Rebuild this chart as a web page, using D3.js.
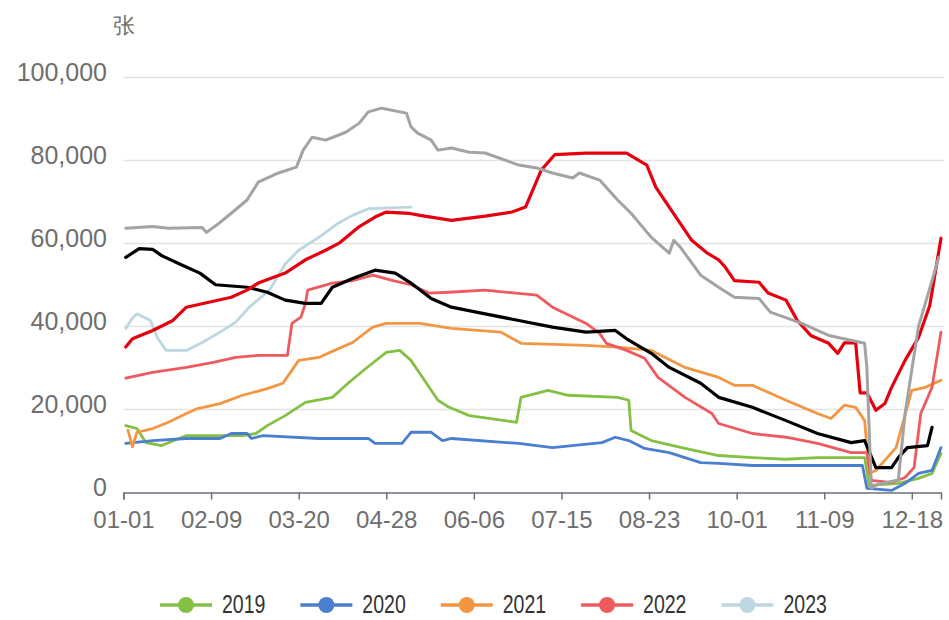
<!DOCTYPE html>
<html><head><meta charset="utf-8">
<script src="https://cdn.jsdelivr.net/npm/d3@7"></script>
<style>
body{margin:0;background:#fff}
text{font-family:"Liberation Sans",Arial,sans-serif}
</style>
</head><body>
<svg id="c" width="949" height="620"></svg>
<script>
// ---------- data (day-of-year index, value in 张) ----------
const xTickLabels = ["01-01","02-09","03-20","04-28","06-06","07-15","08-23","10-01","11-09","12-18"];
const yTickValues = [0,20000,40000,60000,80000,100000];
const unitLabel = "张";
const legendNames = ["2019","2020","2021","2022","2023"];
const legendColors = ["#84c043","#4a7fcf","#f39642","#ef5a5e","#bcd6e2"];

const s2019 = [[1,16100],[6,15400],[10,12000],[17,11300],[28,13700],[43,13700],[53,13700],[59,14200],[64,16100],[72,18500],[81,21700],[93,22900],[100,26300],[108,29900],[117,33700],[123,34200],[128,31800],[134,27000],[140,22200],[145,20500],[154,18500],[175,16900],[177,22900],[189,24600],[198,23400],[220,22900],[225,22200],[226,14900],[235,12500],[250,10600],[265,8900],[280,8400],[295,8000],[309,8400],[330,8400],[332,1700],[345,2200],[354,3400],[360,4600],[364,9400]];
const s2020 = [[1,11800],[13,12500],[28,13000],[43,13000],[48,14200],[55,14200],[57,13000],[62,13700],[87,13000],[109,13000],[112,11800],[124,11800],[128,14500],[137,14500],[142,12500],[146,13000],[176,11800],[191,10800],[213,12000],[219,13300],[225,12500],[232,10600],[243,9600],[257,7200],[265,7000],[280,6500],[309,6500],[329,6500],[331,1000],[342,500],[348,2200],[354,4600],[360,5300],[364,10800]];
const s2021 = [[2,15000],[4,11000],[6,14500],[13,15400],[20,16900],[28,19000],[33,20200],[43,21400],[53,23400],[64,25000],[71,26300],[78,31800],[87,32500],[94,34200],[102,36100],[111,39800],[117,40700],[132,40700],[146,39500],[168,38600],[177,35900],[206,35400],[220,35000],[235,34200],[250,30100],[265,27700],[272,25800],[280,25800],[295,22200],[309,19000],[315,17800],[321,21000],[326,20500],[330,17300],[332,4600],[335,5300],[344,10800],[351,24600],[357,25300],[364,27000]];
const s2022 = [[1,27500],[13,28900],[28,30100],[40,31300],[50,32500],[60,33000],[73,33000],[75,40700],[79,42200],[81,45500],[82,48700],[93,50400],[102,51000],[111,52300],[120,51000],[128,50000],[136,48000],[145,48200],[161,48700],[184,47500],[191,44600],[206,40700],[212,38300],[215,35900],[224,34200],[232,32300],[238,27700],[250,22900],[262,19000],[265,16600],[280,14200],[295,13300],[309,11800],[324,9600],[331,9600],[333,2900],[342,2400],[348,3600],[352,6000],[355,19000],[360,25300],[364,38600]];
const s2023 = [[1,39500],[4,42000],[6,43000],[12,41400],[15,37300],[19,34200],[28,34200],[35,36100],[43,38600],[50,41000],[56,44600],[65,48700],[72,55000],[78,58300],[87,61400],[95,64600],[102,66700],[109,68300],[128,68700]];
const sBlack = [[1,56600],[7,58700],[13,58500],[17,57000],[25,55000],[34,52800],[41,50000],[55,49400],[64,48200],[72,46300],[81,45500],[88,45500],[93,49400],[102,51500],[112,53500],[121,52800],[128,50400],[137,46700],[146,44600],[161,43000],[176,41400],[191,39800],[206,38600],[219,39000],[224,37000],[235,33500],[243,30100],[257,26300],[265,22900],[280,20500],[295,17300],[309,14200],[324,12000],[330,12500],[335,6000],[342,6000],[345,8400],[349,10800],[358,11300],[360,15700]];
const sRed = [[1,35000],[4,37000],[13,39000],[22,41400],[28,44600],[38,45800],[48,47000],[55,48700],[60,50400],[72,52800],[81,56000],[90,58300],[96,60000],[105,64000],[112,66300],[117,67500],[127,67200],[132,66700],[146,65500],[161,66500],[173,67500],[179,68700],[186,77600],[192,81300],[206,81700],[224,81700],[233,78800],[237,73500],[246,66300],[253,60700],[260,57600],[265,56000],[268,54200],[272,51000],[283,50600],[287,48000],[295,46300],[300,41400],[306,37800],[314,35900],[318,33500],[321,36000],[326,36000],[328,24000],[331,24000],[335,19800],[339,21400],[342,25300],[348,31800],[354,37300],[359,45000],[364,61200]];
const sGray = [[1,63600],[13,64000],[20,63600],[35,63800],[37,62600],[43,65000],[48,67200],[55,70400],[60,74700],[69,76900],[77,78300],[80,82400],[84,85500],[90,84800],[99,86700],[105,88900],[109,91600],[115,92500],[126,91300],[128,88000],[131,86500],[137,84800],[140,82400],[146,82900],[154,81900],[161,81700],[176,78800],[184,78100],[191,76900],[200,75700],[203,76900],[212,75200],[220,70400],[226,67200],[235,61400],[243,57600],[245,60700],[248,59000],[257,52300],[265,49400],[272,47000],[283,46700],[288,43400],[302,40700],[314,37800],[330,35900],[331,30000],[333,1000],[336,2000],[345,3000],[348,19000],[354,40000],[360,51000],[363,56600]];

const seriesList = [
  {data:s2019, color:legendColors[0], w:2.8},
  {data:s2020, color:legendColors[1], w:2.8},
  {data:s2021, color:legendColors[2], w:2.8},
  {data:s2022, color:legendColors[3], w:2.8},
  {data:s2023, color:legendColors[4], w:2.8},
  {data:sBlack, color:"#000000", w:3.2},
  {data:sRed, color:"#e5000f", w:3.2},
  {data:sGray, color:"#a3a3a3", w:3}
];

// ---------- chart ----------
const svg = d3.select("#c");
const parse = d3.timeParse("%m-%d");
const jan1 = parse("01-01");
const dayOf = s => d3.timeDay.count(jan1, parse(s));

const x = d3.scaleLinear().domain([0,364]).range([123.5,941]);
const y = d3.scaleLinear().domain([0,100000]).range([492.5,77]);

// grid
svg.append("g").selectAll("line").data(yTickValues.filter(v=>v>0)).join("line")
  .attr("x1",x(0)).attr("x2",x(364)+3)
  .attr("y1",d=>Math.round(y(d))+0.5).attr("y2",d=>Math.round(y(d))+0.5)
  .attr("stroke","#e3e3e3").attr("stroke-width",1.5);

// y labels
const fmt = d3.format(",");
svg.append("g").selectAll("text").data(yTickValues).join("text")
  .attr("x",107).attr("y",d=>y(d)-3)
  .attr("text-anchor","end").attr("dominant-baseline","middle")
  .attr("font-size",25).attr("fill","#6e6e6e")
  .text(d=>fmt(d));

// unit
svg.append("text").attr("x",124).attr("y",27).attr("text-anchor","middle")
  .attr("dominant-baseline","middle").attr("font-size",22).attr("fill","#6e6e6e")
  .attr("font-family","'Noto Sans CJK SC',sans-serif").text(unitLabel);

// x axis
const xAxis = d3.axisBottom(x).tickValues(xTickLabels.map(dayOf))
  .tickFormat((d,i)=>xTickLabels[i]).tickSize(7).tickPadding(11);
const gx = svg.append("g").attr("transform",`translate(0,${y(0)})`).call(xAxis);
gx.select(".domain").attr("stroke","#6e7079").attr("stroke-width",1.5);
gx.selectAll(".tick line").attr("stroke","#6e7079").attr("stroke-width",1.5);
gx.selectAll(".tick text").attr("font-size",24).attr("fill","#6e6e6e")
  .attr("font-family","'Liberation Sans',Arial,sans-serif");

// lines
const line = d3.line().x(d=>x(d[0])).y(d=>y(d[1]));
svg.append("g").selectAll("path").data(seriesList).join("path")
  .attr("d",d=>line(d.data)).attr("fill","none")
  .attr("stroke",d=>d.color).attr("stroke-width",d=>d.w)
  .attr("stroke-linejoin","round").attr("stroke-linecap","round");

// legend
const lg = svg.append("g").attr("transform","translate(0,605)");
let cx = 160;
legendNames.forEach((name,i)=>{
  const g = lg.append("g").attr("transform",`translate(${cx},0)`);
  g.append("line").attr("x1",0).attr("x2",52).attr("y1",0).attr("y2",0)
    .attr("stroke",legendColors[i]).attr("stroke-width",3.5);
  g.append("circle").attr("cx",26).attr("cy",0).attr("r",8).attr("fill",legendColors[i]);
  const t = g.append("text").attr("transform","translate(62,1) scale(0.78,1)")
    .attr("dominant-baseline","middle")
    .attr("font-size",25).attr("fill","#333")
    .text(name);
  cx += 62 + t.node().getComputedTextLength()*0.78 + 35;
});
</script>
</body></html>
